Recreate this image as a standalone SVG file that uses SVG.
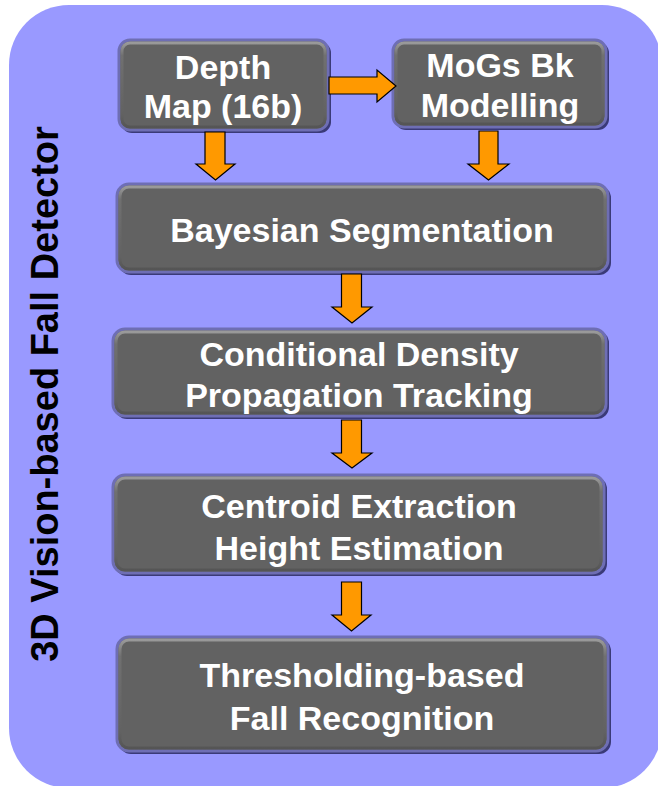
<svg xmlns="http://www.w3.org/2000/svg" width="658" height="786" viewBox="0 0 658 786">
<defs>
<style>
.bg{fill:#9999ff}
.sh{fill:#3a3a78}
.bx{fill:#626262;stroke:#6e6eb4;stroke-width:3}
.hl{fill:none;stroke:url(#hlg);stroke-width:3}
.t{font-family:"Liberation Sans",Arial,sans-serif;font-weight:bold;font-size:34px;fill:#ffffff;text-anchor:middle}
.vt{font-family:"Liberation Sans",Arial,sans-serif;font-weight:bold;font-size:38px;fill:#000000;text-anchor:middle}
.ar{fill:#ff9900;stroke:#000000;stroke-width:1.2;stroke-linejoin:miter}
</style>
<linearGradient id="hlg" x1="0" y1="0" x2="0" y2="1">
<stop offset="0" stop-color="#9a9a9a"/>
<stop offset="0.15" stop-color="#707070"/>
<stop offset="0.85" stop-color="#626262"/>
<stop offset="1" stop-color="#555555"/>
</linearGradient>
</defs>
<rect class="bg" x="9" y="5" width="653" height="783" rx="60"/>
<text class="vt" transform="translate(58,394) rotate(-90)">3D Vision-based Fall Detector</text>

<g id="n-depth">
<rect class="sh" x="121" y="42" width="210" height="91" rx="11"/>
<rect class="bx" x="119" y="40" width="209" height="90" rx="11"/>
<rect class="hl" x="122" y="43" width="203" height="84" rx="8"/>
<text class="t" x="223" y="79">Depth</text>
<text class="t" x="223" y="118">Map (16b)</text>
</g>
<g id="n-mogs">
<rect class="sh" x="395" y="42" width="214" height="88" rx="11"/>
<rect class="bx" x="393" y="40" width="213" height="87" rx="11"/>
<rect class="hl" x="396" y="43" width="207" height="81" rx="8"/>
<text class="t" x="500" y="77">MoGs Bk</text>
<text class="t" x="500" y="117">Modelling</text>
</g>
<g id="n-bayes">
<rect class="sh" x="119" y="186" width="492" height="89" rx="12"/>
<rect class="bx" x="117" y="184" width="491" height="88" rx="12"/>
<rect class="hl" x="120" y="187" width="485" height="82" rx="9"/>
<text class="t" x="362" y="242">Bayesian Segmentation</text>
</g>
<g id="n-cond">
<rect class="sh" x="115" y="331" width="494" height="88" rx="12"/>
<rect class="bx" x="113" y="329" width="493" height="87" rx="12"/>
<rect class="hl" x="116" y="332" width="487" height="81" rx="9"/>
<text class="t" x="359" y="366">Conditional Density</text>
<text class="t" x="359" y="407">Propagation Tracking</text>
</g>
<g id="n-cent">
<rect class="sh" x="115" y="477" width="492" height="99" rx="12"/>
<rect class="bx" x="113" y="475" width="491" height="98" rx="12"/>
<rect class="hl" x="116" y="478" width="485" height="92" rx="9"/>
<text class="t" x="359" y="518">Centroid Extraction</text>
<text class="t" x="359" y="560">Height Estimation</text>
</g>
<g id="n-thresh">
<rect class="sh" x="119" y="639" width="492" height="115" rx="12"/>
<rect class="bx" x="117" y="637" width="491" height="114" rx="12"/>
<rect class="hl" x="120" y="640" width="485" height="108" rx="9"/>
<text class="t" x="362" y="687">Thresholding-based</text>
<text class="t" x="362" y="730">Fall Recognition</text>
</g>

<g id="connectors">
<polygon class="ar" points="329,77 377,77 377,70 396,86 377,102 377,94 329,94"/>
<polygon class="ar" points="205,132 225,132 225,164 235,164 215.5,180 196,164 205,164"/>
<polygon class="ar" points="479,131 498,131 498,164 509,164 488.5,180 468,164 479,164"/>
<polygon class="ar" points="341.5,274 361.5,274 361.5,307 372,307 352,323 332,307 341.5,307"/>
<polygon class="ar" points="341.5,420 361.5,420 361.5,453 372,453 352,468 332,453 341.5,453"/>
<polygon class="ar" points="341.5,582 361.5,582 361.5,615 371,615 351.5,631 332,615 341.5,615"/>
</g>
</svg>
